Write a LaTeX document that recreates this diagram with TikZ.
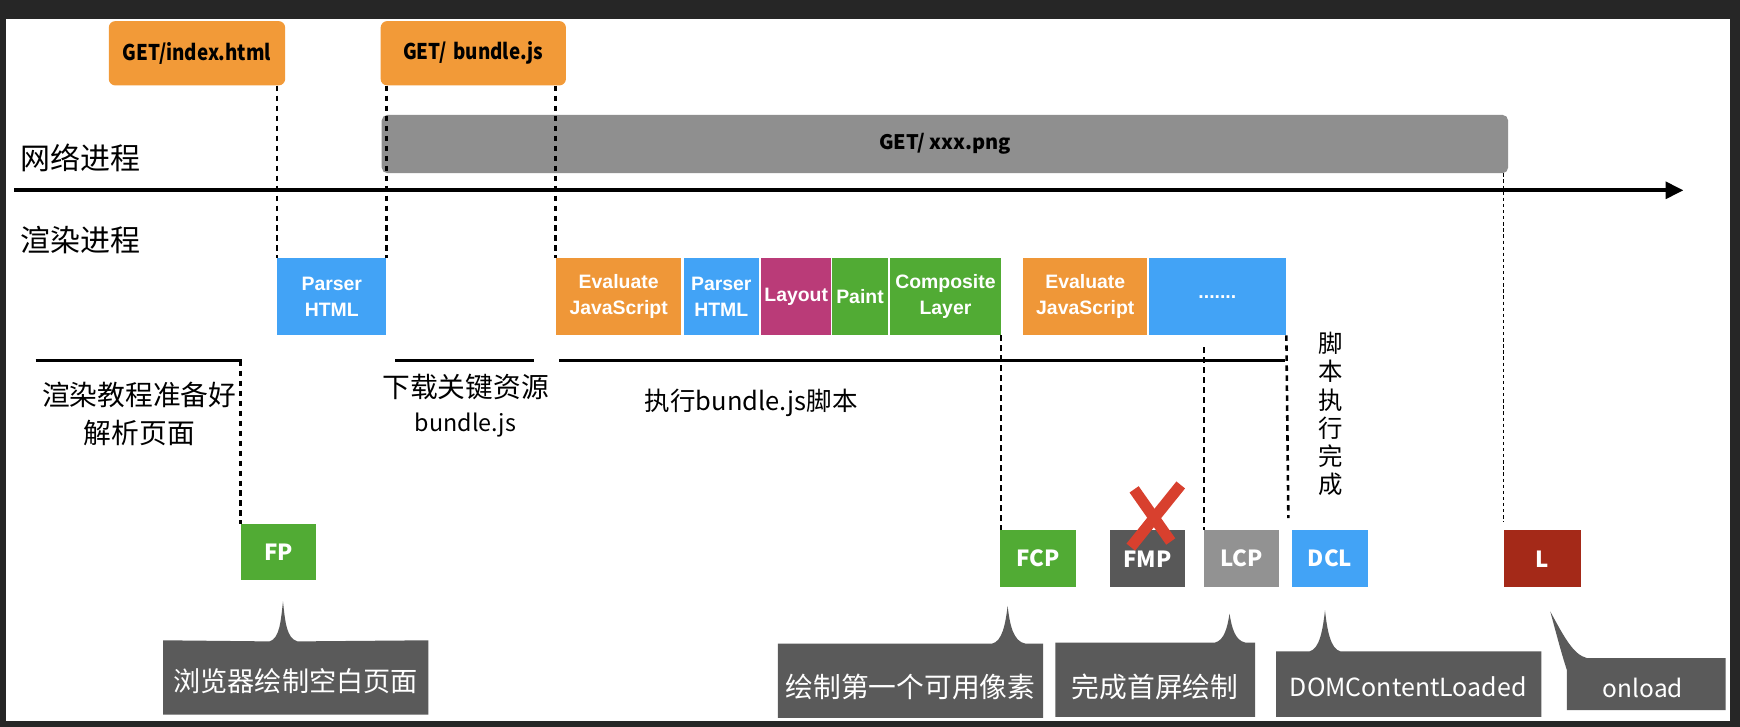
\documentclass[tikz,border=0pt]{standalone}
\usepackage{fontspec}
\setmainfont{Liberation Sans}
\newfontfamily\cjk{Noto Sans CJK SC}
\usetikzlibrary{arrows.meta}
\definecolor{cframe}{HTML}{262626}
\definecolor{corange}{HTML}{F29A38}
\definecolor{cevalo}{HTML}{EF9738}
\definecolor{cblue}{HTML}{42A3F6}
\definecolor{cmag}{HTML}{BA3B78}
\definecolor{cgreen}{HTML}{51AB34}
\definecolor{cbar}{HTML}{8F8F8F}
\definecolor{cfmp}{HTML}{585858}
\definecolor{clcp}{HTML}{929292}
\definecolor{cred}{HTML}{A42918}
\definecolor{ccall}{HTML}{5A5A5A}
\definecolor{cx}{HTML}{D8402E}
\tikzset{
  task/.style={inner sep=0pt, text=white, align=center, minimum height=69.5pt,
    font=\bfseries\fontsize{17.5}{23}\selectfont},
  markbox/.style={inner sep=0pt, minimum width=68pt, minimum height=51pt, text=white,
    font=\cjk\bfseries\fontsize{20}{24}\selectfont},
  getbox/.style={fill=corange, rounded corners=6pt, inner sep=0pt, minimum height=58pt,
    font=\cjk\bfseries\fontsize{19.5}{23}\selectfont},
  phase/.style={line width=3pt},
  dashv/.style={line width=2.3pt, dash pattern=on 5pt off 4pt},
  dotv/.style={line width=1.2pt, dash pattern=on 3pt off 2.5pt},
  lab/.style={font=\cjk\fontsize{25}{30}\selectfont},
  biglab/.style={font=\cjk\fontsize{27}{30}\selectfont},
  ctext/.style={text=white, font=\cjk\fontsize{25}{30}\selectfont},
  callout/.style={fill=ccall},
  xstroke/.style={draw=cx, line width=10pt},
}
\begin{document}
\begin{tikzpicture}[x=1pt,y=-1pt]
\fill[cframe] (0,0) rectangle (1568,655);
\fill[white] (5,17) rectangle (1559,650);
\useasboundingbox (0,0) rectangle (1568,655);

% top boxes
\node[getbox, minimum width=159pt] (get1) at (177.5,48) {\scalebox{0.87}[1]{GET/index.html}};
\node[getbox, minimum width=167pt] (get2) at (426.5,48) {\scalebox{0.87}[1]{GET/\hspace{7pt}bundle.js}};
\node[fill=cbar, rounded corners=5pt, inner sep=0pt, minimum width=1015pt, minimum height=52.5pt,
  font=\cjk\bfseries\fontsize{18}{22}\selectfont] (bar) at (851.5,129.8) {GET/\ xxx.png};

% axis
\coordinate (ax0) at (13,171.5);
\coordinate (ax1) at (1517,171.5);
\draw[line width=3.5pt, -{Triangle[length=16pt,width=15pt]}] (ax0) -- (ax1);
\node[biglab] (net) at (72.5,142.7) {网络进程};
\node[biglab] (ren) at (72.5,216) {渲染进程};

% tasks
\node[task, fill=cblue, minimum width=98pt] (ph1) at (299,267.25) {Parser\\HTML};
\node[task, fill=cevalo, minimum width=113pt] (ev1) at (557.5,267.25) {Evaluate\\JavaScript};
\node[task, fill=cblue, minimum width=68pt] (ph2) at (650,267.25) {Parser\\HTML};
\node[task, fill=cmag, minimum width=63pt] (lay) at (717.5,267.25) {Layout};
\node[task, fill=cgreen, minimum width=50pt] (pnt) at (775,267.25) {Paint};
\node[task, fill=cgreen, minimum width=100pt] (cmp) at (852,267.25) {Composite\\Layer};
\node[task, fill=cevalo, minimum width=112pt] (ev2) at (978,267.25) {Evaluate\\JavaScript};
\node[task, fill=cblue, minimum width=124pt] (dts) at (1097,267.25) {.......};

% phase lines
\coordinate (l1a) at (32,325); \coordinate (l1b) at (218,325);
\coordinate (l2a) at (356,325); \coordinate (l2b) at (481,325);
\coordinate (l3a) at (504,325); \coordinate (l3b) at (1158,325);
\draw[phase] (l1a) -- (l1b);
\draw[phase] (l2a) -- (l2b);
\draw[phase] (l3a) -- (l3b);

\node[lab] (t1a) at (125.5,356) {渲染教程准备好};
\node[lab] (t1b) at (125.5,390) {解析页面};
\node[lab] (t2a) at (419.5,349) {下载关键资源};
\node[lab, font=\cjk\fontsize{21}{25}\selectfont] (t2b) at (419.5,383) {bundle.js};
\node[lab, font=\cjk\fontsize{23}{27}\selectfont] (t3) at (677,363) {执行bundle.js脚本};
\node[align=center, font=\cjk\fontsize{22}{25.3}\selectfont, inner sep=0pt] (t4) at (1199.5,373) {脚\\本\\执\\行\\完\\成};

% markers
\node[markbox, fill=cgreen] (fp) at (251,497.5) {FP};
\node[markbox, fill=cgreen, minimum width=69pt] (fcp) at (935.5,503.5) {FCP};
\node[markbox, fill=cfmp] (fmp) at (1034,503.5) {FMP};
\node[markbox, fill=clcp] (lcp) at (1119,503.5) {LCP};
\node[markbox, fill=cblue, minimum width=69pt] (dcl) at (1198.5,503.5) {DCL};
\node[markbox, fill=cred, minimum width=70pt] (ll) at (1390,503.5) {L};

% dashed connectors
\draw[dashv] (ph1.north west |- get1.south) -- (ph1.north west);
\draw[dashv] (ph1.north east |- get2.south) -- (ph1.north east);
\draw[dashv] (ev1.north west |- get2.south) -- (ev1.north west);
\draw[dashv] (fp.north west |- l1b) -- (fp.north west);
\draw[dashv] (cmp.south east) -- (cmp.south east |- fcp.north);
\coordinate (d6top) at (1085,313);
\draw[dashv] (d6top) -- (d6top |- lcp.north);
\coordinate (d7end) at (1161,467);
\draw[dashv] (dts.south east) -- (d7end);
\draw[dotv, shorten >=8pt] (ll.north west |- bar.south) -- (ll.north west);

% red cross over FMP
\draw[xstroke] (1064,437) -- (1019,493);
\draw[xstroke] (1022,441) -- (1055,488);

% callouts
\fill[callout] (147,577) -- (243,578) .. controls (252,575) and (253,560) .. (255,542)
  .. controls (257,560) and (258,575) .. (268,578) -- (386,577) -- (386,644) -- (147,644) -- cycle;
\fill[callout] (701,580) -- (894,580) .. controls (903,578) and (906,563) .. (908,546)
  .. controls (910,563) and (913,578) .. (924,580) -- (940,580) -- (940,647) -- (701,647) -- cycle;
\fill[callout] (951,579) -- (1095,579) .. controls (1103,577) and (1106,566) .. (1108,553)
  .. controls (1110,566) and (1113,577) .. (1122,579) -- (1131,579) -- (1131,646) -- (951,646) -- cycle;
\fill[callout] (1150,587) -- (1180,587) .. controls (1189,585) and (1192,568) .. (1194,550)
  .. controls (1196,568) and (1199,585) .. (1208,587) -- (1389,587) -- (1389,646) -- (1150,646) -- cycle;
\fill[callout] (1412,640) -- (1412,604) .. controls (1407,588) .. (1397,551)
  .. controls (1410,575) and (1418,590) .. (1430,593) -- (1555,593) -- (1555,640) -- cycle;

\node[ctext, font=\cjk\fontsize{24.5}{30}\selectfont] (c1) at (266.5,614) {浏览器绘制空白页面};
\node[ctext] (c2) at (820.5,619) {绘制第一个可用像素};
\node[ctext] (c3) at (1041,619) {完成首屏绘制};
\node[ctext, font=\cjk\fontsize{22.5}{26}\selectfont] (c4) at (1269,619) {DOMContentLoaded};
\node[ctext, font=\cjk\fontsize{22}{26}\selectfont] (c5) at (1480.5,620) {onload};
\end{tikzpicture}
\end{document}
